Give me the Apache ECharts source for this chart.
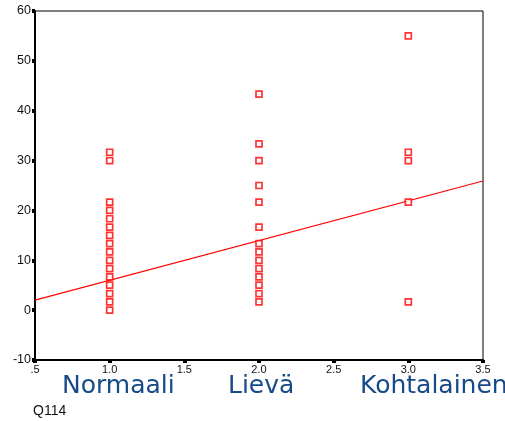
<!DOCTYPE html>
<html>
<head>
<meta charset="utf-8">
<script src="https://cdn.jsdelivr.net/npm/echarts@6/dist/echarts.min.js"></script>
<style>
  html, body { margin: 0; padding: 0; background: #fff; }
  #chart { width: 505px; height: 421px; }
</style>
</head>
<body>
<div id="chart"></div>
<script>
// Group codes on the x axis and their names
const groupCodes = [1, 2, 3];
const groupNames = ['Normaali', 'Lievä', 'Kohtalainen'];

// Observed values per group
const normaaliValues = [0, 1.67, 3.33, 5, 6.67, 8.33, 10, 11.67, 13.33, 15, 16.67, 18.33, 20, 21.67, 30, 31.67];
const lievaValues = [1.67, 3.33, 5, 6.67, 8.33, 10, 11.67, 13.33, 16.67, 21.67, 25, 30, 33.33, 43.33];
const kohtalainenValues = [1.67, 21.67, 30, 31.67, 55];

// Linear fit line, evaluated at the ends of the x range
const fitX = [0.5, 3.5];
const fitY = [2.0, 25.9];

const xTickLabels = ['.5', '1.0', '1.5', '2.0', '2.5', '3.0', '3.5'];
const yTicks = [-10, 0, 10, 20, 30, 40, 50, 60];

const points = [];
[normaaliValues, lievaValues, kohtalainenValues].forEach((vals, i) => {
  vals.forEach(v => points.push([groupCodes[i], v]));
});

const chart = echarts.init(document.getElementById('chart'));
const grid = { left: 35, right: 22, top: 11, bottom: 61 };

chart.setOption({
  animation: false,
  grid: Object.assign({ show: true, borderColor: '#000', borderWidth: 1 }, grid),
  xAxis: {
    type: 'value', min: 0.5, max: 3.5, interval: 0.5,
    axisLine: { onZero: false, lineStyle: { color: '#000', width: 2 } },
    axisTick: { length: 3, lineStyle: { color: '#000', width: 4 } },
    splitLine: { show: false },
    axisLabel: {
      color: '#111', fontFamily: 'Liberation Sans, Arial', fontSize: 11, margin: 4,
      formatter: v => xTickLabels[Math.round((v - 0.5) / 0.5)]
    }
  },
  yAxis: {
    type: 'value', min: yTicks[0], max: yTicks[yTicks.length - 1], interval: 10,
    axisLine: { onZero: false, lineStyle: { color: '#000', width: 2 } },
    axisTick: { length: 3, lineStyle: { color: '#000', width: 4 } },
    splitLine: { show: false },
    axisLabel: { color: '#111', fontFamily: 'Liberation Sans, Arial', fontSize: 12.5, margin: 4 }
  },
  series: [
    {
      type: 'line',
      data: fitX.map((x, i) => [x, fitY[i]]),
      symbol: 'none',
      lineStyle: { color: '#ff0000', width: 1.2 },
      z: 2
    },
    {
      type: 'scatter',
      data: points,
      symbol: 'rect',
      symbolSize: 6,
      itemStyle: { color: '#fff', borderColor: '#ff0000', borderWidth: 1.7 },
      z: 3
    }
  ],
  graphic: [
    { type: 'text', left: 62, top: 374, style: { text: groupNames[0], fill: '#174a88', font: '25px "DejaVu Sans", Verdana' } },
    { type: 'text', left: 228, top: 374, style: { text: groupNames[1], fill: '#174a88', font: '25px "DejaVu Sans", Verdana' } },
    { type: 'text', left: 360, top: 374, style: { text: groupNames[2], fill: '#174a88', font: '25px "DejaVu Sans", Verdana' } },
    { type: 'text', left: 33, top: 404, style: { text: 'Q114', fill: '#111', font: '14px "Liberation Sans", Arial' } }
  ]
});
</script>
</body>
</html>
